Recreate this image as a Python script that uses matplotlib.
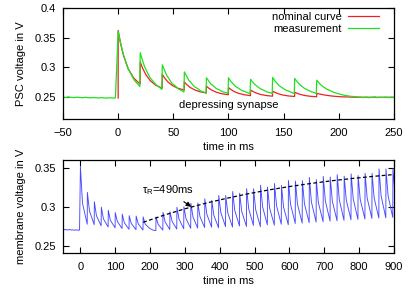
import numpy as np
import matplotlib
matplotlib.use('Agg')
import matplotlib.pyplot as plt
from matplotlib.ticker import FormatStrFormatter

plt.rcParams['font.family'] = ['Liberation Sans', 'DejaVu Sans']
plt.rcParams['mathtext.fontset'] = 'custom'
plt.rcParams['mathtext.rm'] = 'Liberation Sans'
plt.rcParams['font.size'] = 8

# ---- top panel: depressing synapse, PSC voltage ----
spikes_top = [0, 20, 40, 60, 80, 100, 120, 140, 160]

nominal_offsets = [0, 2, 5, 9, 14, 19.9]
nominal_segments = [
    [0.362, 0.3417, 0.3187, 0.2977, 0.2818, 0.2715],
    [0.309, 0.2990, 0.2877, 0.2774, 0.2696, 0.2645],
    [0.288, 0.2820, 0.2753, 0.2692, 0.2645, 0.2615],
    [0.275, 0.2708, 0.2661, 0.2619, 0.2586, 0.2565],
    [0.268, 0.2647, 0.2611, 0.2577, 0.2551, 0.2535],
    [0.2655, 0.2625, 0.2590, 0.2559, 0.2535, 0.2520],
    [0.2615, 0.2591, 0.2565, 0.2540, 0.2522, 0.2510],
    [0.2595, 0.2575, 0.2552, 0.2531, 0.2515, 0.2505],
    [0.2578, 0.2560, 0.2541, 0.2522, 0.2509, 0.2500],
]
nominal_tail_t = [180, 183, 188, 194, 202, 215, 250]
nominal_tail_v = [0.2558, 0.2545, 0.2527, 0.2512, 0.2500, 0.2493, 0.2490]

meas_base_t = np.arange(-50, 0, 2.5)
meas_base_v = [0.2495, 0.2488, 0.2497, 0.2490, 0.2486, 0.2493, 0.2489, 0.2484,
               0.2491, 0.2486, 0.2482, 0.2488, 0.2484, 0.2480, 0.2486, 0.2481,
               0.2478, 0.2484, 0.2479, 0.2481]
meas_offsets = [0, 2, 4, 6, 9, 12, 15, 18, 19.6]
meas_segments = [
    [0.3600, 0.3425, 0.3265, 0.3140, 0.2975, 0.2870, 0.2770, 0.2712, 0.2672],
    [0.3245, 0.3120, 0.3005, 0.2928, 0.2820, 0.2755, 0.2690, 0.2652, 0.2625],
    [0.3040, 0.2950, 0.2862, 0.2806, 0.2722, 0.2680, 0.2626, 0.2601, 0.2580],
    [0.2920, 0.2850, 0.2780, 0.2738, 0.2672, 0.2640, 0.2595, 0.2578, 0.2560],
    [0.2820, 0.2770, 0.2715, 0.2690, 0.2638, 0.2615, 0.2582, 0.2570, 0.2553],
    [0.2822, 0.2762, 0.2722, 0.2680, 0.2645, 0.2606, 0.2588, 0.2563, 0.2556],
    [0.2795, 0.2748, 0.2706, 0.2676, 0.2634, 0.2610, 0.2580, 0.2568, 0.2552],
    [0.2827, 0.2770, 0.2728, 0.2688, 0.2648, 0.2612, 0.2592, 0.2566, 0.2557],
    [0.2810, 0.2760, 0.2716, 0.2684, 0.2640, 0.2614, 0.2585, 0.2569, 0.2553],
]
meas_tail_t = [180, 182, 184, 186, 189, 192, 195, 198, 202, 206, 210, 214, 218,
               220, 222.5, 225, 227.5, 230, 232.5, 235, 237.5, 240, 242.5, 245, 247.5, 250]
meas_tail_v = [0.2780, 0.2735, 0.2695, 0.2668, 0.2630, 0.2605, 0.2578, 0.2560,
               0.2538, 0.2522, 0.2510, 0.2503, 0.2496,
               0.2492, 0.2487, 0.2494, 0.2485, 0.2491, 0.2497, 0.2486, 0.2492,
               0.2489, 0.2495, 0.2488, 0.2493, 0.2490]

# ---- bottom panel: membrane voltage, recovery ----
mem_base_t = np.arange(-50, 0, 2.5)
mem_base_v = [0.2712, 0.2708, 0.2713, 0.2709, 0.2711, 0.2706, 0.2710, 0.2707,
              0.2712, 0.2708, 0.2705, 0.2709, 0.2706, 0.2703, 0.2707, 0.2704,
              0.2708, 0.2705, 0.2702, 0.2706]
mem_spikes = [0, 20, 40, 60, 80, 100, 120, 140, 160, 180,
              217, 237, 257, 277, 297, 317, 337, 357, 377, 397, 417, 437,
              457, 477, 497, 517, 537, 557, 577, 597, 617, 637, 657, 677,
              697, 717, 737, 757, 777, 797, 817, 837, 857, 877, 897]
mem_offsets = [0, 6, 19.5]
mem_segments = [
    [0.3520, 0.3050, 0.2780], [0.3190, 0.2950, 0.2775], [0.3070, 0.2890, 0.2760],
    [0.3000, 0.2850, 0.2745], [0.2960, 0.2830, 0.2735], [0.2930, 0.2815, 0.2725],
    [0.2910, 0.2800, 0.2715], [0.2890, 0.2790, 0.2710], [0.2885, 0.2785, 0.2705],
    [0.2875, 0.2780, 0.2725],
    [0.2873, 0.2781, 0.2705], [0.2933, 0.2811, 0.2712], [0.2941, 0.2818, 0.2718],
    [0.2999, 0.2847, 0.2722], [0.3005, 0.2853, 0.2728], [0.3050, 0.2875, 0.2731],
    [0.3054, 0.2880, 0.2738], [0.3107, 0.2906, 0.2742], [0.3089, 0.2894, 0.2735],
    [0.3151, 0.2930, 0.2750], [0.3151, 0.2927, 0.2744], [0.3201, 0.2957, 0.2758],
    [0.3180, 0.2945, 0.2752], [0.3238, 0.2978, 0.2765], [0.3236, 0.2968, 0.2748],
    [0.3282, 0.3002, 0.2772], [0.3258, 0.2988, 0.2768], [0.3304, 0.3016, 0.2780],
    [0.3279, 0.3002, 0.2775], [0.3343, 0.3039, 0.2790], [0.3336, 0.3038, 0.2795],
    [0.3340, 0.3043, 0.2800], [0.3382, 0.3066, 0.2808], [0.3354, 0.3056, 0.2812],
    [0.3396, 0.3079, 0.2820], [0.3387, 0.3078, 0.2825], [0.3418, 0.3095, 0.2830],
    [0.3398, 0.3090, 0.2838], [0.3428, 0.3106, 0.2842], [0.3407, 0.3100, 0.2848],
    [0.3436, 0.3116, 0.2855], [0.3435, 0.3119, 0.2860], [0.3493, 0.3146, 0.2862],
    [0.3491, 0.3148, 0.2868], [0.3499, 0.3160, 0.2870],
]
mem_gap_t = [208, 216.5]
mem_gap_v = [0.2705, 0.2698]

fit_t = [180, 240, 300, 360, 420, 480, 540, 600, 660, 720, 780, 840, 900]
fit_v = [0.2805, 0.2897, 0.2979, 0.3051, 0.3114, 0.3171, 0.3221, 0.3265,
         0.3304, 0.3339, 0.3369, 0.3396, 0.3420]


def build(spikes, offsets, segments):
    t, v = [], []
    for s, seg in zip(spikes, segments):
        t += [s + o for o in offsets]
        v += list(seg)
    return t, v


nom_t, nom_v = build(spikes_top, nominal_offsets, nominal_segments)
nom_t = [0] + nom_t + nominal_tail_t
nom_v = [0.2480] + nom_v + nominal_tail_v

m_t, m_v = build(spikes_top, meas_offsets, meas_segments)
m_t = list(meas_base_t) + m_t + meas_tail_t
m_v = list(meas_base_v) + m_v + meas_tail_v

b_t, b_v = build(mem_spikes, mem_offsets, mem_segments)
# the pause after the first train sits between spike 180 and 217
k = 10 * len(mem_offsets)
b_t = list(mem_base_t) + b_t[:k] + mem_gap_t + b_t[k:]
b_v = list(mem_base_v) + b_v[:k] + mem_gap_v + b_v[k:]

fig = plt.figure(figsize=(4.15, 2.91), dpi=100)
ax1 = fig.add_axes([0.1518, 0.5911, 0.7976, 0.3814])
ax2 = fig.add_axes([0.1518, 0.1306, 0.7976, 0.3196])

ax1.plot(nom_t, nom_v, color='#f02020', lw=0.9, label='nominal curve')
ax1.plot(m_t, m_v, color='#20e020', lw=0.9, label='measurement')
ax1.set_xlim(-50, 250)
ax1.set_ylim(0.2125, 0.4)
ax1.set_xticks([-50, 0, 50, 100, 150, 200, 250])
ax1.set_yticks([0.25, 0.3, 0.35, 0.4])
ax1.yaxis.set_major_formatter(FormatStrFormatter('%g'))
ax1.set_xlabel('time in ms', labelpad=3)
ax1.set_ylabel('PSC voltage in V', labelpad=6)
ax1.text(100, 0.2355, 'depressing synapse', ha='center', va='center', fontsize=8)
ax1.legend(loc='upper right', bbox_to_anchor=(0.962, 0.985), frameon=False,
           markerfirst=False, handlelength=2.8, handletextpad=0.6,
           labelspacing=0.15, borderpad=0.2, borderaxespad=0, fontsize=8)

ax2.plot(b_t, b_v, color='#4848ff', lw=0.65)
ax2.plot(fit_t, fit_v, color='black', lw=0.9, ls=(0, (3, 2)))
ax2.set_xlim(-50, 900)
ax2.set_ylim(0.241, 0.3607)
ax2.set_xticks([0, 100, 200, 300, 400, 500, 600, 700, 800, 900])
ax2.set_yticks([0.25, 0.3, 0.35])
ax2.yaxis.set_major_formatter(FormatStrFormatter('%g'))
ax2.set_xlabel('time in ms', labelpad=3)
ax2.set_ylabel('membrane voltage in V', labelpad=6)
ax2.annotate(r'$\mathrm{\tau_R}$=490ms', xy=(318, 0.3005), xytext=(250, 0.3215),
             ha='center', va='center', fontsize=8,
             arrowprops=dict(arrowstyle='-|>', color='black', lw=0.8,
                             mutation_scale=7, shrinkA=2, shrinkB=0))

for ax in (ax1, ax2):
    ax.tick_params(direction='in', top=True, right=True, length=4, width=0.8,
                   pad=5, labelsize=8)
    ax.tick_params(axis='x', pad=6.5)
    for sp in ax.spines.values():
        sp.set_linewidth(0.9)

fig.savefig('out.png', dpi=100)
